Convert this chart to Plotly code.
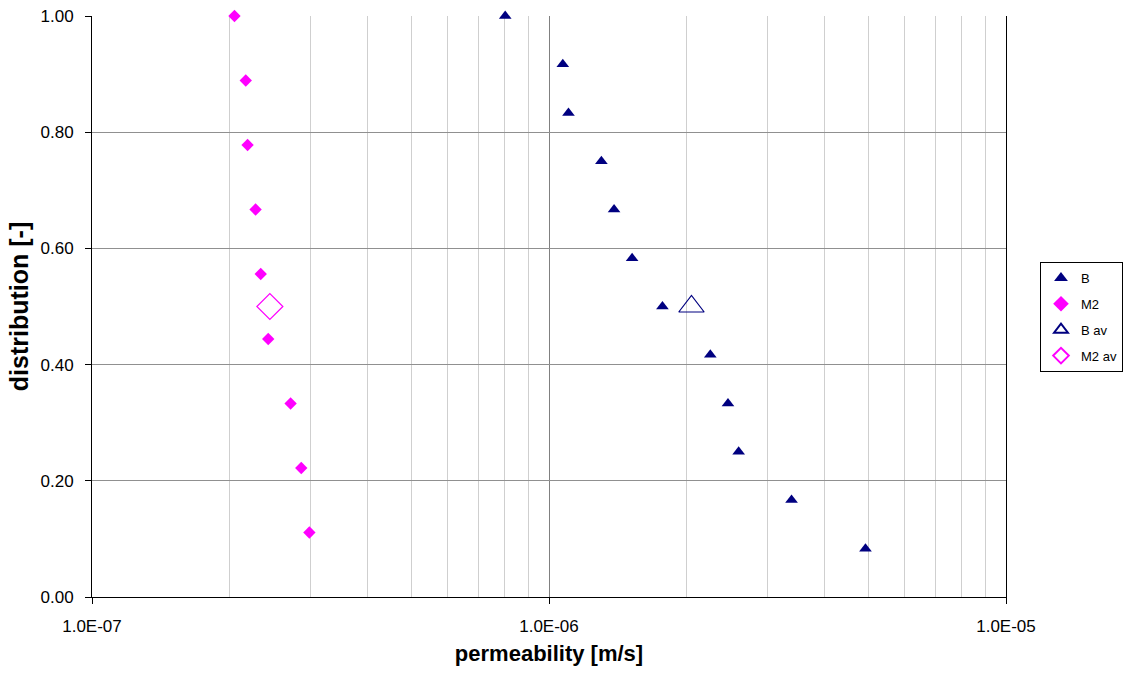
import plotly.graph_objects as go

# Permeability measurements [m/s] and their cumulative distribution
b_perm = [8.02e-7, 1.072e-6, 1.103e-6, 1.302e-6, 1.388e-6, 1.520e-6,
          1.771e-6, 2.254e-6, 2.464e-6, 2.600e-6, 3.394e-6, 4.926e-6]
b_dist = [1.000, 0.917, 0.833, 0.750, 0.667, 0.583,
          0.500, 0.417, 0.333, 0.250, 0.167, 0.083]

m2_perm = [2.05e-7, 2.17e-7, 2.19e-7, 2.28e-7, 2.34e-7,
           2.43e-7, 2.72e-7, 2.87e-7, 2.99e-7]
m2_dist = [1.000, 0.889, 0.778, 0.667, 0.556, 0.444, 0.333, 0.222, 0.111]

# Averages
b_av_perm = [2.05e-6]
b_av_dist = [0.5]
m2_av_perm = [2.45e-7]
m2_av_dist = [0.5]

x_tick_vals = [1e-7, 1e-6, 1e-5]
x_tick_text = ["1.0E-07", "1.0E-06", "1.0E-05"]

NAVY = "#000080"
MAGENTA = "#FF00FF"
FONT = "Liberation Sans, Arial, sans-serif"

fig = go.Figure()
fig.add_trace(go.Scatter(
    x=b_perm, y=b_dist, mode="markers", name="B", cliponaxis=False,
    legendgroup="b",
    marker=dict(symbol="triangle-up", size=11, color=NAVY,
                line=dict(width=0))))
fig.add_trace(go.Scatter(
    x=m2_perm, y=m2_dist, mode="markers", name="M2", cliponaxis=False,
    legendgroup="m2",
    marker=dict(symbol="diamond", size=9.5, color=MAGENTA,
                line=dict(width=0))))
fig.add_trace(go.Scatter(
    x=b_av_perm, y=b_av_dist, mode="markers", name="B av", cliponaxis=False,
    legendgroup="bav",
    marker=dict(symbol="triangle-up-open", size=22, color=NAVY,
                line=dict(width=1.2, color=NAVY))))
fig.add_trace(go.Scatter(
    x=m2_av_perm, y=m2_av_dist, mode="markers", name="M2 av", cliponaxis=False,
    legendgroup="m2av",
    marker=dict(symbol="diamond-open", size=20, color=MAGENTA,
                line=dict(width=1.2, color=MAGENTA))))

fig.update_layout(
    width=1129, height=677,
    margin=dict(l=92, r=123, t=16, b=80, autoexpand=False),
    paper_bgcolor="white", plot_bgcolor="white",
    font=dict(family=FONT, color="black", size=17),
    showlegend=True,
    legend=dict(
        x=1.128, xanchor="right", y=0.482, yanchor="middle",
        bgcolor="white", bordercolor="black", borderwidth=1,
        font=dict(size=13, family=FONT), itemsizing="constant",
        itemwidth=30, tracegroupgap=6,
    ),
)

fig.update_xaxes(
    type="log", range=[-7, -5],
    tickvals=x_tick_vals, ticktext=x_tick_text,
    ticks="outside", ticklen=6, tickcolor="black",
    ticklabelstandoff=8,
    showline=True, linecolor="black", linewidth=1,
    showgrid=True, gridcolor="#808080", gridwidth=1,
    minor=dict(showgrid=True, dtick="D1", gridcolor="#cfcfcf", gridwidth=1.3,
               ticks=""),
    title=dict(text="<b>permeability [m/s]</b>", font=dict(size=22, family=FONT),
               standoff=10),
    zeroline=False,
)
fig.update_yaxes(
    range=[0, 1], dtick=0.2, tickformat=".2f",
    ticks="outside", ticklen=6, tickcolor="black",
    ticklabelstandoff=8,
    showline=True, linecolor="black", linewidth=1, mirror=True,
    showgrid=True, gridcolor="#909090", gridwidth=1,
    title=dict(text="<b>distribution [-]</b>", font=dict(size=25, family=FONT),
               standoff=4),
    zeroline=False,
)

fig.write_html("out.html")
